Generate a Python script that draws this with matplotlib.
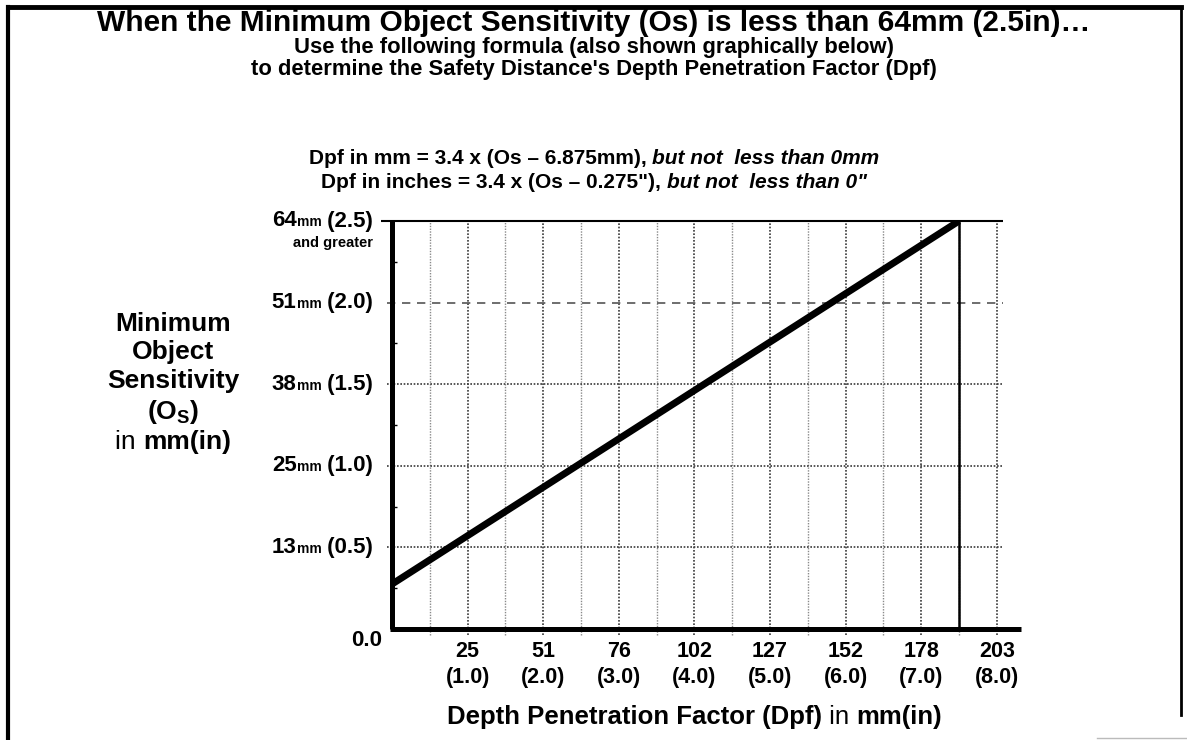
import matplotlib
matplotlib.use("Agg")
import matplotlib.pyplot as plt
from matplotlib.offsetbox import TextArea, HPacker, AnnotationBbox
from matplotlib.lines import Line2D

plt.rcParams['font.family'] = ['Liberation Sans', 'DejaVu Sans']
plt.rcParams['mathtext.fontset'] = 'custom'
plt.rcParams['mathtext.rm'] = 'Liberation Sans:bold'
plt.rcParams['mathtext.bf'] = 'Liberation Sans:bold'

# values in inches, labels in mm (inches)
x_ticks = [1, 2, 3, 4, 5, 6, 7, 8]
x_mm = ["25", "51", "76", "102", "127", "152", "178", "203"]
y_ticks = [0.5, 1.0, 1.5, 2.0, 2.5]
y_mm = ["13", "25", "38", "51", "64"]
dpf_line = [0.0, 7.5]     # depth penetration factor (in)
os_line = [0.275, 2.5]    # minimum object sensitivity (in)
dpf_cap = 7.5

W, H = 1187, 740
fig = plt.figure(figsize=(W / 100, H / 100), dpi=100)
ax = fig.add_axes([392 / W, 111 / H, 629 / W, 408 / H])
ax.set_xlim(0, 8.32)
ax.set_ylim(0, 2.5)
ax.set_axis_off()


def rich(parts, xy, xycoords, align, target):
    boxes = [TextArea(s, textprops=dict(fontsize=fs, fontweight=fw, fontstyle=st, color='black'))
             for s, fs, fw, st in parts]
    pack = HPacker(children=boxes, align='baseline', pad=0, sep=0)
    ab = AnnotationBbox(pack, xy, xycoords=xycoords, box_alignment=align,
                        frameon=False, pad=0, annotation_clip=False)
    target.add_artist(ab)


# grid
half = [i * 0.5 for i in range(1, 17)]
for x in half:
    major = float(x).is_integer()
    ax.plot([x, x], [-0.035, 2.5], ls=(0, (1, 1)), lw=1.2 if major else 1.0,
            color='#3a3a3a' if major else '#8a8a8a', clip_on=False, zorder=1)
ax.hlines([0.5, 1.0, 1.5], -0.07, 8.08, colors='#3a3a3a', linestyles=[(0, (1, 1))],
          lw=1.2, clip_on=False, zorder=1)
ax.hlines([2.0], -0.07, 8.08, colors='#555555', linestyles=[(0, (5, 4))],
          lw=1.2, clip_on=False, zorder=1)
ax.hlines([2.5], -0.15, 8.08, colors='black', lw=1.5, clip_on=False, zorder=2)
ax.hlines([0.25, 0.75, 1.25, 1.75, 2.25], 0, 0.06, colors='black', lw=1.0, zorder=2)

# axes lines
ax.plot([0, 0], [0, 2.5], color='black', lw=3.6, solid_capstyle='butt', clip_on=False, zorder=4)
ax.plot([-0.02, 8.32], [0, 0], color='black', lw=3.6, solid_capstyle='butt', clip_on=False, zorder=4)
ax.plot([dpf_cap, dpf_cap], [0, 2.5], color='black', lw=1.8, clip_on=False, zorder=3)

# the Dpf line
ax.plot(dpf_line, os_line, color='black', lw=5, solid_capstyle='butt', zorder=5)

# y tick labels
ytr = ax.get_yaxis_transform()
for v, mm in zip(y_ticks, y_mm):
    rich([(mm, 16, 'bold', 'normal'), ("mm", 10, 'bold', 'normal'),
          (" (%.1f)" % v, 16, 'bold', 'normal')],
         (-0.030, v), ytr, (1, 0.5), ax)
ax.text(-0.030, 2.5 - 22 / 165, "and greater", transform=ytr, ha='right', va='center',
        fontsize=10.5, fontweight='bold')
ax.text(-0.016, -12 / 165, "0.0", transform=ytr, ha='right', va='center',
        fontsize=16, fontweight='bold')

# x tick labels
for v, mm in zip(x_ticks, x_mm):
    ax.text(v, -23 / 165, mm, ha='center', va='center', fontsize=15.5, fontweight='bold')
    ax.text(v, -49 / 165, "(%.1f)" % v, ha='center', va='center', fontsize=15.5,
            fontweight='bold')

# axis titles
rich([("Depth Penetration Factor (Dpf)", 18.5, 'bold', 'normal'),
      (" in ", 18.5, 'normal', 'normal'), ("mm(in)", 18.5, 'bold', 'normal')],
     (694, H - 717), 'figure pixels', (0.5, 0.5), fig)

left_lines = ["Minimum", "Object", "Sensitivity", r"(O$_{\mathrm{S}}$)"]
left_y = [324, 352, 381, 412]
for s, yy in zip(left_lines, left_y):
    fig.text(173 / W, 1 - yy / H, s, ha='center', va='center', fontsize=19, fontweight='bold')
rich([("in ", 19, 'normal', 'normal'), ("mm(in)", 19, 'bold', 'normal')],
     (173, H - 442), 'figure pixels', (0.5, 0.5), fig)

# headings
fig.text(594 / W, 1 - 23 / H,
         "When the Minimum Object Sensitivity (Os) is less than 64mm (2.5in)\u2026",
         ha='center', va='center', fontsize=21.5, fontweight='bold')
fig.text(594 / W, 1 - 48 / H, "Use the following formula (also shown graphically below)",
         ha='center', va='center', fontsize=15.8, fontweight='bold')
fig.text(594 / W, 1 - 69 / H,
         "to determine the Safety Distance's Depth Penetration Factor (Dpf)",
         ha='center', va='center', fontsize=15.8, fontweight='bold')
rich([("Dpf in mm = 3.4 x (Os \u2013 6.875mm), ", 15, 'bold', 'normal'),
      ("but not  less than 0mm", 15, 'bold', 'italic')],
     (594, H - 159), 'figure pixels', (0.5, 0.5), fig)
rich([("Dpf in inches = 3.4 x (Os \u2013 0.275\"), ", 15, 'bold', 'normal'),
      ("but not  less than 0\"", 15, 'bold', 'italic')],
     (594, H - 182), 'figure pixels', (0.5, 0.5), fig)

# page frame
fig.add_artist(Line2D([8 / W, 1181 / W], [1 - 7 / H, 1 - 7 / H], transform=fig.transFigure,
                      color='black', lw=3.5))
fig.add_artist(Line2D([8 / W, 8 / W], [0, 1 - 7 / H], transform=fig.transFigure,
                      color='black', lw=3))
fig.add_artist(Line2D([1181 / W, 1181 / W], [1 - 715 / H, 1 - 7 / H], transform=fig.transFigure,
                      color='black', lw=2))
fig.add_artist(Line2D([1097 / W, 1], [1 - 738 / H, 1 - 738 / H], transform=fig.transFigure,
                      color='#bbbbbb', lw=1))

fig.savefig("out.png", dpi=100)
